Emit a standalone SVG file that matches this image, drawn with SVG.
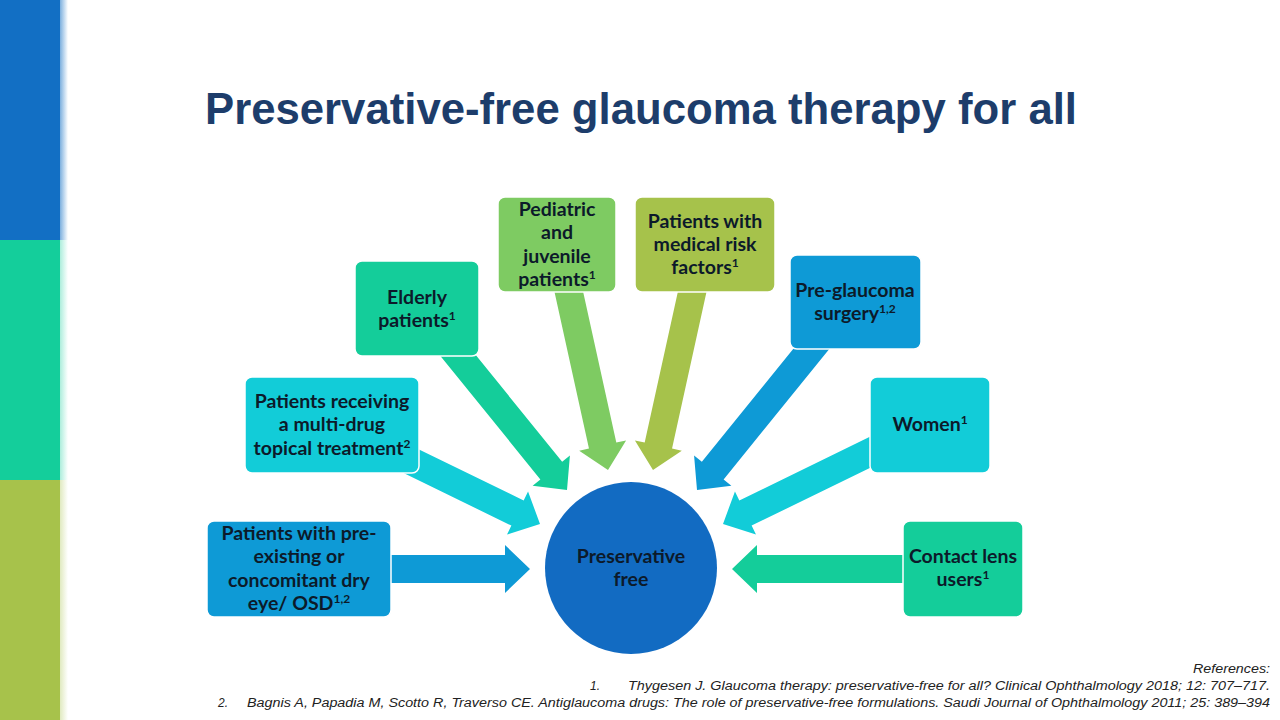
<svg xmlns="http://www.w3.org/2000/svg" width="1280" height="720" viewBox="0 0 1280 720">
  <defs>
    <style>
      .lbl { font-family: Lato, "Open Sans", "Liberation Sans", sans-serif; font-weight: 700; font-size: 19.5px; fill: #0c1a2a; text-anchor: middle; }
      .sup { font-size: 12px; }
      .box { stroke: #ffffff; stroke-width: 1.5; }
      .ref { font-family: "Liberation Sans", Arial, sans-serif; font-style: italic; font-size: 12px; fill: #222222; }
      .title { font-family: "Liberation Sans", Arial, sans-serif; font-weight: 700; font-size: 44px; fill: #1d3d6b; }
      .c-blue { fill: #0e9ad6; }
      .c-cyan { fill: #12ccd8; }
      .c-teal { fill: #14cd9a; }
      .c-lgreen { fill: #7ecb62; }
      .c-olive { fill: #a6c24b; }
    </style>
    <linearGradient id="gBlue" x1="0" y1="0" x2="1" y2="0">
      <stop offset="0" stop-color="#126fc4" stop-opacity="0.55"/>
      <stop offset="1" stop-color="#126fc4" stop-opacity="0"/>
    </linearGradient>
    <linearGradient id="gTeal" x1="0" y1="0" x2="1" y2="0">
      <stop offset="0" stop-color="#14ce9b" stop-opacity="0.35"/>
      <stop offset="1" stop-color="#14ce9b" stop-opacity="0"/>
    </linearGradient>
    <linearGradient id="gOlive" x1="0" y1="0" x2="1" y2="0">
      <stop offset="0" stop-color="#a7c24b" stop-opacity="0.35"/>
      <stop offset="1" stop-color="#a7c24b" stop-opacity="0"/>
    </linearGradient>
  </defs>

  <rect x="0" y="0" width="1280" height="720" fill="#ffffff"/>

  <!-- left decorative bar -->
  <g id="sidebar">
    <rect x="0" y="0" width="60" height="240" fill="#126fc4"/>
    <rect x="0" y="240" width="60" height="240" fill="#14ce9b"/>
    <rect x="0" y="480" width="60" height="240" fill="#a7c24b"/>
    <rect x="60" y="0" width="8" height="240" fill="url(#gBlue)"/>
    <rect x="60" y="240" width="8" height="240" fill="url(#gTeal)"/>
    <rect x="60" y="480" width="8" height="240" fill="url(#gOlive)"/>
  </g>

  <text id="title" class="title" x="205" y="124" textLength="872" lengthAdjust="spacingAndGlyphs">Preservative-free glaucoma therapy for all</text>

  <!-- connectors -->
  <g id="connectors">
    <polygon class="c-blue" points="0,0 -25,-24 -25,-14 -150,-14 -150,14 -25,14 -25,24" transform="translate(530,569)"/>
    <polygon class="c-cyan" points="0,0 -25,-24 -25,-14 -170,-14 -170,14 -25,14 -25,24" transform="translate(540,524) rotate(26)"/>
    <polygon class="c-teal" points="0,0 -25,-24 -25,-14 -190,-14 -190,14 -25,14 -25,24" transform="translate(567,490) rotate(51)"/>
    <polygon class="c-lgreen" points="0,0 -25,-24 -25,-14 -200,-14 -200,14 -25,14 -25,24" transform="translate(608,470) rotate(77.6)"/>
    <polygon class="c-olive" points="0,0 -25,-24 -25,-14 -200,-14 -200,14 -25,14 -25,24" transform="translate(653,470) rotate(102.4)"/>
    <polygon class="c-blue" points="0,0 -25,-24 -25,-14 -200,-14 -200,14 -25,14 -25,24" transform="translate(697,490) rotate(129)"/>
    <polygon class="c-cyan" points="0,0 -25,-24 -25,-14 -185,-14 -185,14 -25,14 -25,24" transform="translate(723,524) rotate(154)"/>
    <polygon class="c-teal" points="0,0 -25,-24 -25,-14 -185,-14 -185,14 -25,14 -25,24" transform="translate(732,569) rotate(180)"/>
  </g>

  <!-- nodes -->
  <g id="node-center">
    <circle cx="631" cy="568" r="86" fill="#126bc2"/>
    <text class="lbl" x="631" y="563">Preservative</text>
    <text class="lbl" x="631" y="586">free</text>
  </g>

  <g id="node-dry-eye">
    <rect class="box c-blue" x="207" y="521" width="184" height="96" rx="7"/>
    <text class="lbl" x="299" y="540">Patients with pre-</text>
    <text class="lbl" x="299" y="563">existing or</text>
    <text class="lbl" x="299" y="587">concomitant dry</text>
    <text class="lbl" x="299" y="610">eye/ OSD<tspan class="sup" dy="-7">1,2</tspan></text>
  </g>

  <g id="node-multidrug">
    <rect class="box c-cyan" x="245" y="377" width="174" height="96" rx="7"/>
    <text class="lbl" x="332" y="408">Patients receiving</text>
    <text class="lbl" x="332" y="431">a multi-drug</text>
    <text class="lbl" x="332" y="455">topical treatment<tspan class="sup" dy="-7">2</tspan></text>
  </g>

  <g id="node-elderly">
    <rect class="box c-teal" x="355" y="261" width="124" height="95" rx="7"/>
    <text class="lbl" x="417" y="304">Elderly</text>
    <text class="lbl" x="417" y="327">patients<tspan class="sup" dy="-7">1</tspan></text>
  </g>

  <g id="node-pediatric">
    <rect class="box c-lgreen" x="498" y="197" width="118" height="95" rx="7"/>
    <text class="lbl" x="557" y="216">Pediatric</text>
    <text class="lbl" x="557" y="239">and</text>
    <text class="lbl" x="557" y="263">juvenile</text>
    <text class="lbl" x="557" y="286">patients<tspan class="sup" dy="-7">1</tspan></text>
  </g>

  <g id="node-medical">
    <rect class="box c-olive" x="635" y="197" width="140" height="95" rx="7"/>
    <text class="lbl" x="705" y="228">Patients with</text>
    <text class="lbl" x="705" y="251">medical risk</text>
    <text class="lbl" x="705" y="274">factors<tspan class="sup" dy="-7">1</tspan></text>
  </g>

  <g id="node-preglaucoma">
    <rect class="box c-blue" x="790" y="255" width="131" height="94" rx="7"/>
    <text class="lbl" x="855" y="297">Pre-glaucoma</text>
    <text class="lbl" x="855" y="320">surgery<tspan class="sup" dy="-7">1,2</tspan></text>
  </g>

  <g id="node-women">
    <rect class="box c-cyan" x="870" y="377" width="120" height="96" rx="7"/>
    <text class="lbl" x="930" y="431">Women<tspan class="sup" dy="-7">1</tspan></text>
  </g>

  <g id="node-contact">
    <rect class="box c-teal" x="903" y="521" width="120" height="96" rx="7"/>
    <text class="lbl" x="963" y="563">Contact lens</text>
    <text class="lbl" x="963" y="586">users<tspan class="sup" dy="-7">1</tspan></text>
  </g>

  <!-- references -->
  <g id="references">
    <text class="ref" x="1193" y="673" textLength="77" lengthAdjust="spacingAndGlyphs">References:</text>
    <text class="ref" x="590" y="690">1.</text>
    <text class="ref" x="628" y="690" textLength="642" lengthAdjust="spacingAndGlyphs">Thygesen J. Glaucoma therapy: preservative-free for all? Clinical Ophthalmology 2018; 12: 707–717.</text>
    <text class="ref" x="218" y="707">2.</text>
    <text class="ref" x="247" y="707" textLength="1023" lengthAdjust="spacingAndGlyphs">Bagnis A, Papadia M, Scotto R, Traverso CE. Antiglaucoma drugs: The role of preservative-free formulations. Saudi Journal of Ophthalmology 2011; 25: 389–394</text>
  </g>
</svg>
